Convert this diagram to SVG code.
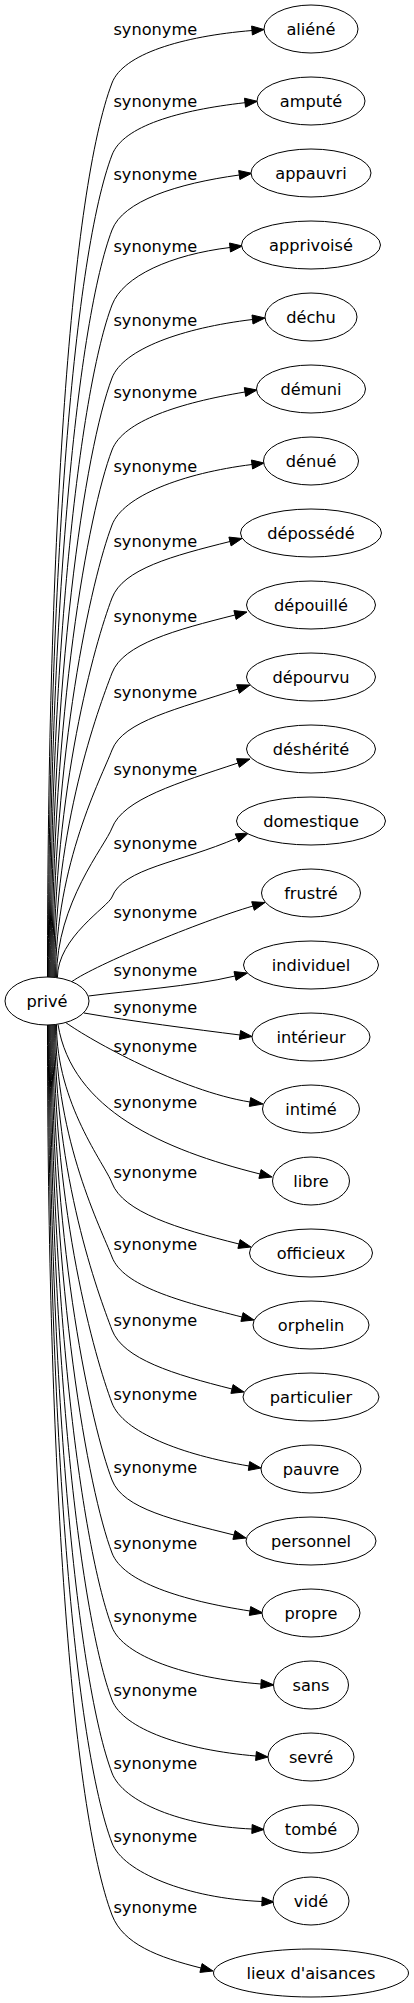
<svg xmlns="http://www.w3.org/2000/svg" width="414" height="2003" viewBox="0 0 414 2003">
<style>
.n ellipse{fill:#fff;stroke:#000;stroke-width:1}
text{font-family:"DejaVu Sans","Liberation Sans",sans-serif;font-size:16.2px;fill:#000;text-anchor:middle}
#edges path{fill:none;stroke:#000;stroke-width:1}
#edges polygon{fill:#000;stroke:#000;stroke-width:1}
</style>
<rect width="414" height="2003" fill="#fff"/>
<g id="edges">
<path d="M47.5,977 C47.5,530 71.3,190.3 112,83 C123,54 182.2,36.3 252,30.5"/><polygon points="264,29.5 252.4,35 251.6,26"/>
<path d="M48.4,977 C48.4,566 74.6,253.6 112,155 C123,126 178.9,110.2 245,102.7"/><polygon points="257.3,101.3 245.5,107.2 244.5,98.2"/>
<path d="M49.3,977 C49.3,603.5 78,319.6 112,230 C123,201 176.3,183.7 239.3,175"/><polygon points="251.7,173.3 239.9,179.5 238.7,170.5"/>
<path d="M50.2,977 C50.2,641 81.4,385.6 112,305 C123,276 171.4,254.6 230,247.5"/><polygon points="242.3,246 230.5,252 229.5,243"/>
<path d="M51.1,977.2 C51.1,677.6 84.7,449.9 112,378 C123,349 182.7,327.9 252.5,319.5"/><polygon points="265,318 253,324 252,315"/>
<path d="M52,977.2 C52,713.6 88,513.3 112,450 C123,421 179.4,402.9 245,392"/><polygon points="257,390 245.7,396.4 244.3,387.6"/>
<path d="M52.9,977.2 C52.9,751.1 91.4,579.3 112,525 C123,496 182.6,473.2 252,464.5"/><polygon points="264,463 252.6,469 251.4,460"/>
<path d="M53.8,977.2 C53.8,787.6 94.7,643.5 112,598 C123,569 172.8,555.8 230,541.5"/><polygon points="242,538.5 231.1,545.9 228.9,537.1"/>
<path d="M54.7,977.5 C54.7,825.3 98.1,709.5 112,673 C123,644 175.3,630 235,615"/><polygon points="247,612 236.1,619.4 233.9,610.6"/>
<path d="M55.6,977.5 C55.6,863.75 101.6,777.3 112,750 C123,721 178.2,708.9 238,689"/><polygon points="250,685 239.4,693.3 236.6,684.7"/>
<path d="M56.5,977.5 C56.5,902.75 105.2,846 112,828 C123,799 178.2,782.9 238,763"/><polygon points="250,759 239.4,767.3 236.6,758.7"/>
<path d="M57.4,977.7 C57.4,937.4 108.3,906.7 112,897 C123,868 179.7,862.9 237,838"/><polygon points="248.5,833 238.8,842.1 235.2,833.9"/>
<path d="M72,981.5 C95,965 200.2,921.4 253,906"/><polygon points="265,902.5 254.3,910.3 251.7,901.7"/>
<path d="M88.5,996 C130,990.5 191.3,986.5 235,976"/><polygon points="247.5,973 236,980.4 234,971.6"/>
<path d="M84,1013 C130,1021 195.4,1029.4 240,1035"/><polygon points="252,1036.5 239.4,1039.5 240.6,1030.5"/>
<path d="M65.7,1022.5 C90,1040 181,1091 250,1102"/><polygon points="263,1104 249.3,1106.4 250.7,1097.6"/>
<path d="M58,1024.5 C72,1110 163,1149.7 260,1174"/><polygon points="272,1177 258.9,1178.4 261.1,1169.6"/>
<path d="M56.5,1024.5 C56.5,1103.75 104.8,1164 112,1183 C123,1212 177.4,1228.6 239,1244"/><polygon points="251,1247 237.9,1248.4 240.1,1239.6"/>
<path d="M55.6,1024.5 C55.6,1140.75 101.4,1229.1 112,1257 C123,1286 179,1301.2 242,1317"/><polygon points="254,1320 240.9,1321.4 243.1,1312.6"/>
<path d="M54.7,1024.6 C54.7,1177.25 98.1,1293.3 112,1330 C123,1359 173.8,1374.4 232,1389"/><polygon points="244,1392 230.9,1393.4 233.1,1384.6"/>
<path d="M53.8,1024.8 C53.8,1213.9 94.8,1357.6 112,1403 C123,1432 181.5,1454.8 249,1466"/><polygon points="261,1468 248.3,1470.4 249.7,1461.6"/>
<path d="M52.9,1024.8 C52.9,1252.4 91.3,1425.4 112,1480 C123,1509 174.8,1520.2 234,1535"/><polygon points="246,1538 232.9,1539.4 235.1,1530.6"/>
<path d="M52,1024.8 C52,1288.9 88,1489.6 112,1553 C123,1582 181.8,1600.5 250,1611"/><polygon points="263,1613 249.3,1615.4 250.7,1606.6"/>
<path d="M51.1,1024.8 C51.1,1325.9 84.6,1554.7 112,1627 C123,1656 186.7,1678.3 261,1684"/><polygon points="274,1685 260.7,1688.5 261.3,1679.5"/>
<path d="M50.2,1025 C50.2,1362.5 81.3,1619 112,1700 C123,1729 184.2,1750 256,1756"/><polygon points="268,1757 255.6,1760.5 256.4,1751.5"/>
<path d="M49.3,1025 C49.3,1399 78,1683.2 112,1773 C123,1802 182,1826.1 252,1829"/><polygon points="264,1829.5 251.8,1833.5 252.2,1824.5"/>
<path d="M48.4,1025 C48.4,1434 74.8,1744.8 112,1843 C123,1872 187,1898.4 262,1901.5"/><polygon points="274,1902 261.8,1906 262.2,1897"/>
<path d="M47.5,1025 C47.5,1470 71.5,1808.2 112,1915 C123,1944 157.8,1957.2 201,1968"/><polygon points="213,1971 199.9,1972.4 202.1,1963.6"/>
<g id="edge-labels">
<text x="155.3" y="35.2">synonyme</text>
<text x="155.3" y="107.2">synonyme</text>
<text x="155.3" y="180.2">synonyme</text>
<text x="155.3" y="252.2">synonyme</text>
<text x="155.3" y="326.2">synonyme</text>
<text x="155.3" y="398.2">synonyme</text>
<text x="155.3" y="472.2">synonyme</text>
<text x="155.3" y="547.2">synonyme</text>
<text x="155.3" y="622.2">synonyme</text>
<text x="155.3" y="698.2">synonyme</text>
<text x="155.3" y="775.2">synonyme</text>
<text x="155.3" y="849.2">synonyme</text>
<text x="155.3" y="918.2">synonyme</text>
<text x="155.3" y="976.2">synonyme</text>
<text x="155.3" y="1013.2">synonyme</text>
<text x="155.3" y="1052.2">synonyme</text>
<text x="155.3" y="1108.2">synonyme</text>
<text x="155.3" y="1178.2">synonyme</text>
<text x="155.3" y="1250.2">synonyme</text>
<text x="155.3" y="1326.2">synonyme</text>
<text x="155.3" y="1400.2">synonyme</text>
<text x="155.3" y="1473.2">synonyme</text>
<text x="155.3" y="1549.2">synonyme</text>
<text x="155.3" y="1622.2">synonyme</text>
<text x="155.3" y="1696.2">synonyme</text>
<text x="155.3" y="1769.2">synonyme</text>
<text x="155.3" y="1842.2">synonyme</text>
<text x="155.3" y="1913.2">synonyme</text>
</g>
</g>
<g id="prive" class="n"><ellipse cx="47" cy="1001" rx="42" ry="24"/><text x="47" y="1006.8">privé</text></g>
<g id="aliene" class="n"><ellipse cx="311" cy="29" rx="47" ry="24"/><text x="311" y="34.8">aliéné</text></g>
<g id="ampute" class="n"><ellipse cx="311" cy="101" rx="54" ry="24"/><text x="311" y="106.8">amputé</text></g>
<g id="appauvri" class="n"><ellipse cx="311" cy="173" rx="60" ry="24"/><text x="311" y="178.8">appauvri</text></g>
<g id="apprivoise" class="n"><ellipse cx="311" cy="245" rx="69.5" ry="24"/><text x="311" y="250.8">apprivoisé</text></g>
<g id="dechu" class="n"><ellipse cx="311" cy="317" rx="46" ry="24"/><text x="311" y="322.8">déchu</text></g>
<g id="demuni" class="n"><ellipse cx="311" cy="389" rx="54.5" ry="24"/><text x="311" y="394.8">démuni</text></g>
<g id="denue" class="n"><ellipse cx="311" cy="461" rx="47.5" ry="24"/><text x="311" y="466.8">dénué</text></g>
<g id="depossede" class="n"><ellipse cx="311" cy="533" rx="70.5" ry="24"/><text x="311" y="538.8">dépossédé</text></g>
<g id="depouille" class="n"><ellipse cx="311" cy="605" rx="64.5" ry="24"/><text x="311" y="610.8">dépouillé</text></g>
<g id="depourvu" class="n"><ellipse cx="311" cy="677" rx="64.5" ry="24"/><text x="311" y="682.8">dépourvu</text></g>
<g id="desherite" class="n"><ellipse cx="311" cy="749" rx="64.5" ry="24"/><text x="311" y="754.8">déshérité</text></g>
<g id="domestique" class="n"><ellipse cx="311" cy="821" rx="74.5" ry="24"/><text x="311" y="826.8">domestique</text></g>
<g id="frustre" class="n"><ellipse cx="311" cy="893" rx="49.5" ry="24"/><text x="311" y="898.8">frustré</text></g>
<g id="individuel" class="n"><ellipse cx="311" cy="965" rx="67.5" ry="24"/><text x="311" y="970.8">individuel</text></g>
<g id="interieur" class="n"><ellipse cx="311" cy="1037" rx="59" ry="24"/><text x="311" y="1042.8">intérieur</text></g>
<g id="intime" class="n"><ellipse cx="311" cy="1109" rx="48.5" ry="24"/><text x="311" y="1114.8">intimé</text></g>
<g id="libre" class="n"><ellipse cx="311" cy="1181" rx="38.5" ry="24"/><text x="311" y="1186.8">libre</text></g>
<g id="officieux" class="n"><ellipse cx="311" cy="1253" rx="61.5" ry="24"/><text x="311" y="1258.8">officieux</text></g>
<g id="orphelin" class="n"><ellipse cx="311" cy="1325" rx="58" ry="24"/><text x="311" y="1330.8">orphelin</text></g>
<g id="particulier" class="n"><ellipse cx="311" cy="1397" rx="68" ry="24"/><text x="311" y="1402.8">particulier</text></g>
<g id="pauvre" class="n"><ellipse cx="311" cy="1469" rx="50" ry="24"/><text x="311" y="1474.8">pauvre</text></g>
<g id="personnel" class="n"><ellipse cx="311" cy="1541" rx="65" ry="24"/><text x="311" y="1546.8">personnel</text></g>
<g id="propre" class="n"><ellipse cx="311" cy="1613" rx="49" ry="24"/><text x="311" y="1618.8">propre</text></g>
<g id="sans" class="n"><ellipse cx="311" cy="1685" rx="37.5" ry="24"/><text x="311" y="1690.8">sans</text></g>
<g id="sevre" class="n"><ellipse cx="311" cy="1757" rx="43" ry="24"/><text x="311" y="1762.8">sevré</text></g>
<g id="tombe" class="n"><ellipse cx="311" cy="1829" rx="47.5" ry="24"/><text x="311" y="1834.8">tombé</text></g>
<g id="vide" class="n"><ellipse cx="311" cy="1901" rx="38" ry="24"/><text x="311" y="1906.8">vidé</text></g>
<g id="lieux" class="n"><ellipse cx="311" cy="1973" rx="97.5" ry="24"/><text x="311" y="1978.8">lieux d'aisances</text></g>
</svg>
